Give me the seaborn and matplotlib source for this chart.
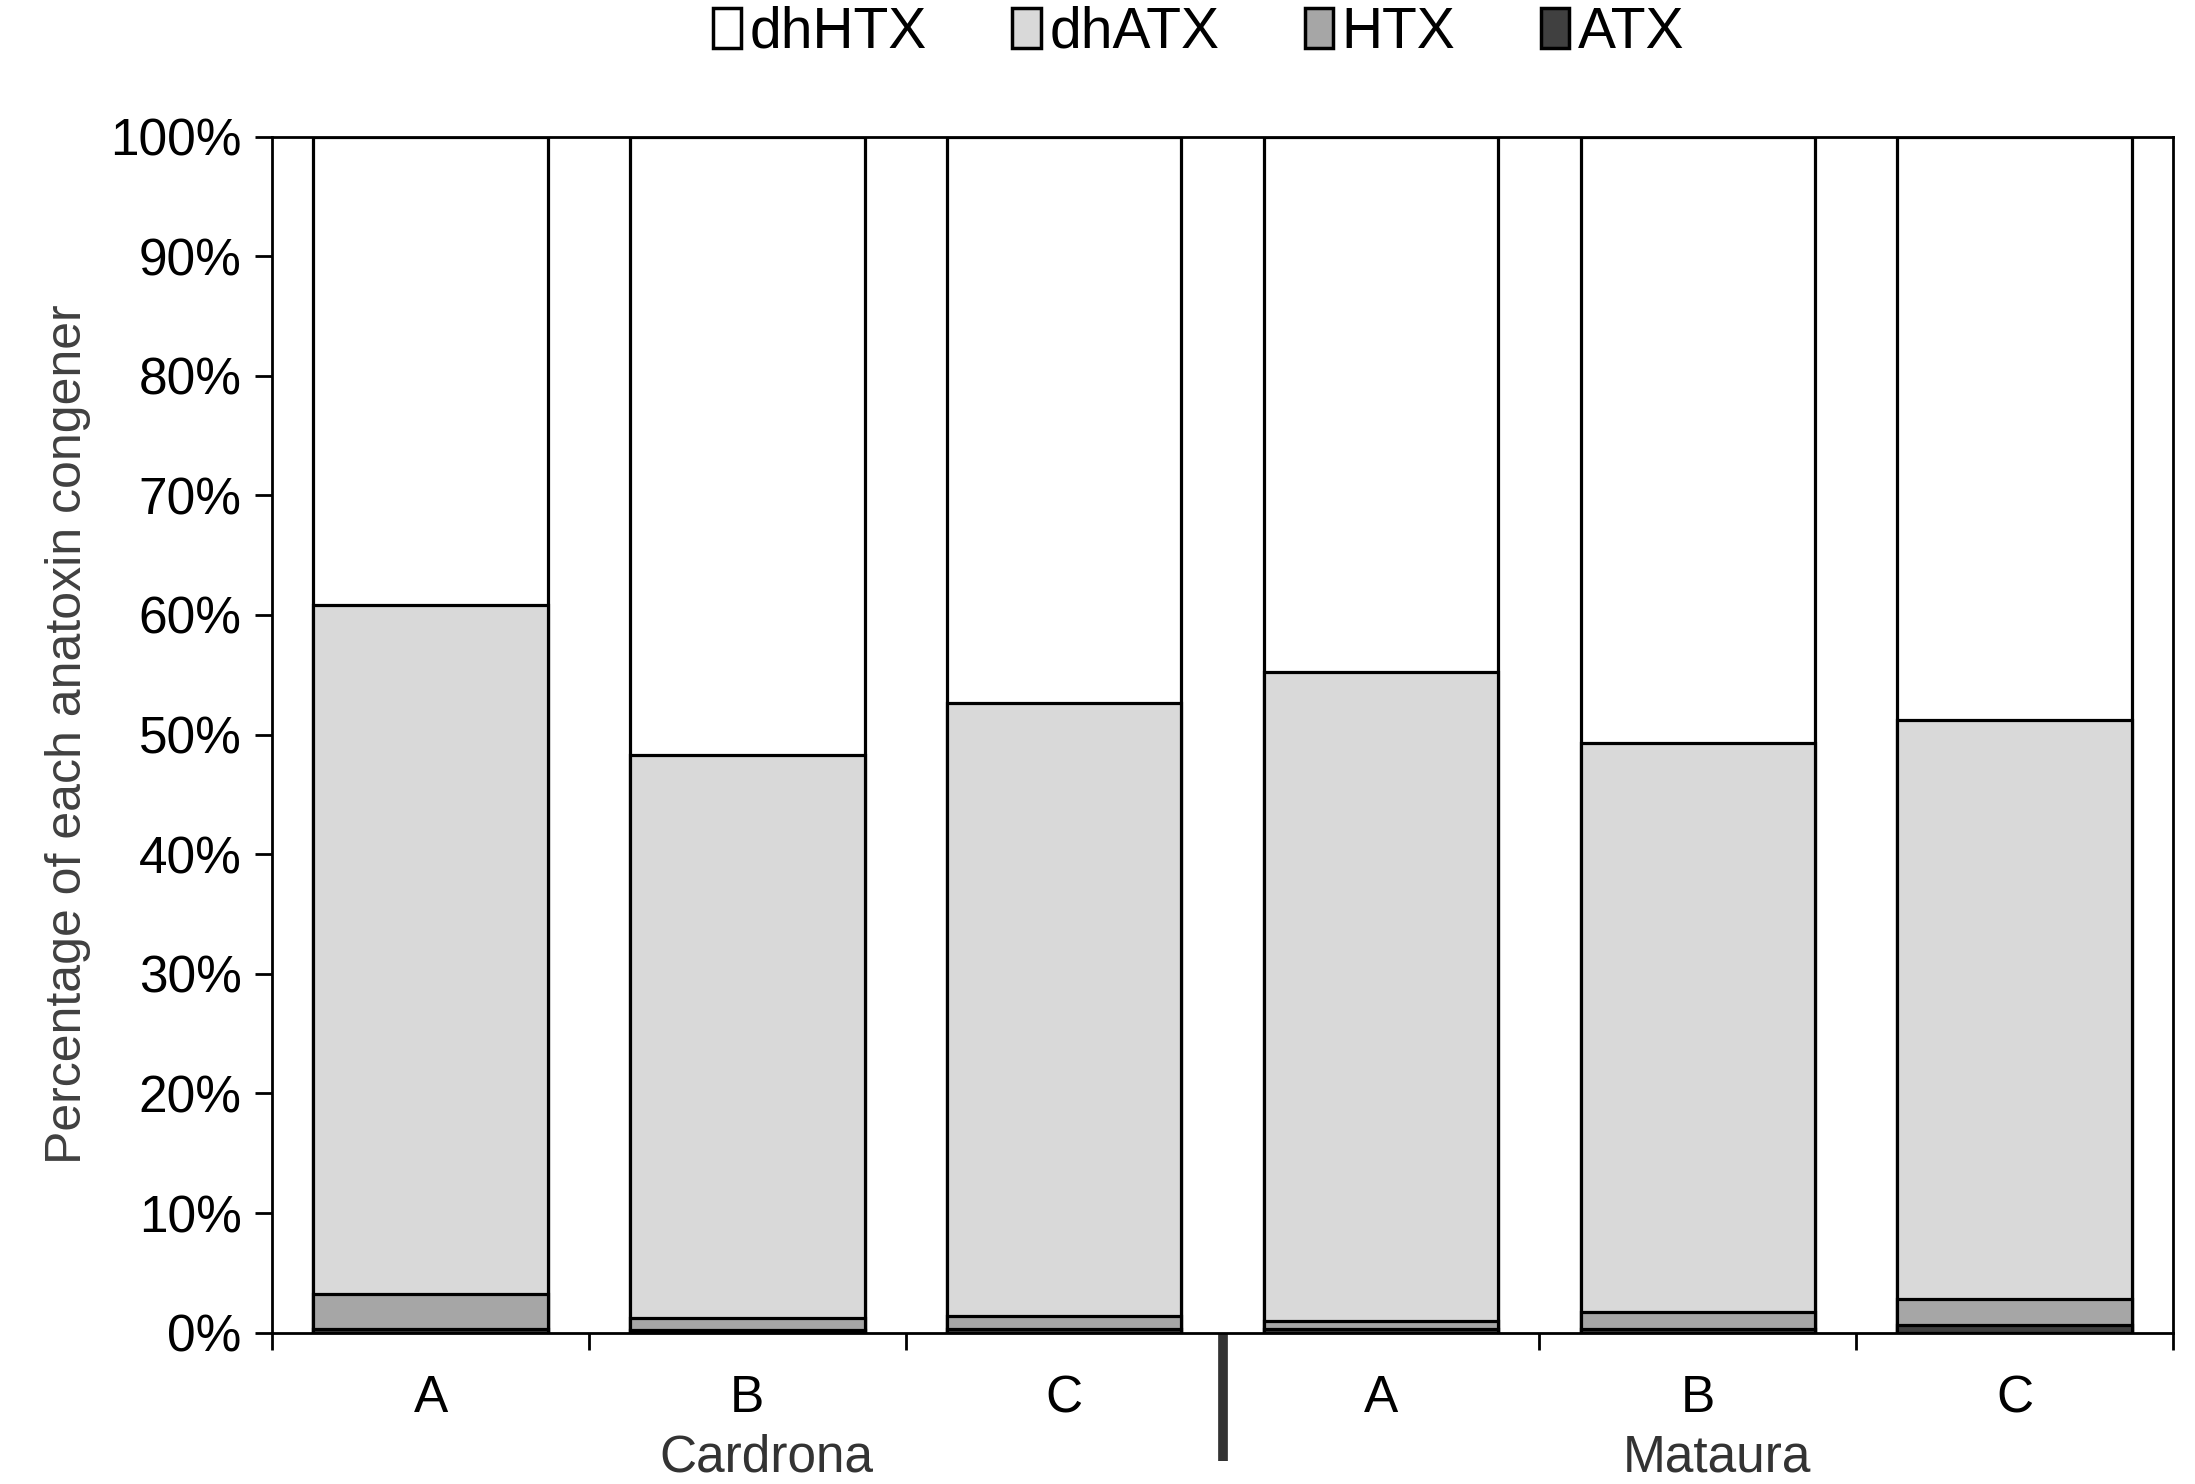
import numpy as np
import pandas as pd
import matplotlib
matplotlib.use("Agg")
import matplotlib.pyplot as plt
import seaborn as sns
from matplotlib.patches import Patch

# Data (percent of each congener)
sites = ['Cardrona', 'Cardrona', 'Cardrona', 'Mataura', 'Mataura', 'Mataura']
samples = ['A', 'B', 'C', 'A', 'B', 'C']
atx = [0.3, 0.2, 0.3, 0.3, 0.3, 0.6]
htx = [2.9, 1.0, 1.1, 0.7, 1.4, 2.2]
dhatx = [57.6, 47.1, 51.2, 54.2, 47.6, 48.4]
series = ['dhHTX', 'dhATX', 'HTX', 'ATX']
colors = {'dhHTX': '#ffffff', 'dhATX': '#d9d9d9', 'HTX': '#a6a6a6', 'ATX': '#404040'}

df = pd.DataFrame({'site': sites, 'sample': samples,
                   'ATX': atx, 'HTX': htx, 'dhATX': dhatx})
df['dhHTX'] = 100 - df['ATX'] - df['HTX'] - df['dhATX']
df['key'] = df['site'] + ' ' + df['sample']
# cumulative heights for stacking (draw tallest first)
df['c_ATX'] = df['ATX']
df['c_HTX'] = df['c_ATX'] + df['HTX']
df['c_dhATX'] = df['c_HTX'] + df['dhATX']
df['c_dhHTX'] = df['c_dhATX'] + df['dhHTX']

plt.rcParams['font.family'] = ['Liberation Sans', 'DejaVu Sans']
fig = plt.figure(figsize=(21.95, 14.84), dpi=100)
ax = fig.add_axes([0.124, 0.102, 0.866, 0.806])

for s in series:
    sns.barplot(data=df, x='key', y='c_' + s, color=colors[s], edgecolor='black',
                linewidth=2.3, width=0.74, saturation=1, ax=ax, errorbar=None)

ax.set_ylim(0, 100)
ax.set_xlim(-0.5, 5.5)
ax.set_yticks(np.arange(0, 101, 10))
ax.set_yticklabels([f'{v}%' for v in range(0, 101, 10)], fontsize=37)
ax.set_ylabel('Percentage of each anatoxin congener', fontsize=36, color='#404040', labelpad=14)
ax.set_xlabel('')

# ticks at category boundaries, labels at centres
ax.set_xticks(np.arange(-0.5, 6, 1))
ax.set_xticklabels([])
ax.set_xticks(np.arange(6), minor=True)
ax.set_xticklabels(samples, minor=True, fontsize=37)
ax.tick_params(axis='x', which='major', length=12, width=2, direction='out')
ax.tick_params(axis='x', which='minor', length=0, pad=30)
ax.tick_params(axis='y', length=12, width=2, direction='out', pad=10)
for sp in ax.spines.values():
    sp.set_linewidth(2)
    sp.set_color('black')

# group separator and group labels
ax.plot([0.5, 0.5], [0, -0.107], transform=ax.transAxes, color='#333333',
        linewidth=7, clip_on=False, solid_capstyle='butt')
for i, site in enumerate(['Cardrona', 'Mataura']):
    ax.text(0.26 + 0.5 * i, -0.105, site, transform=ax.transAxes,
            ha='center', va='center', fontsize=37, color='#333333')

handles = [Patch(facecolor=colors[s], edgecolor='black', linewidth=2.5) for s in series]
fig.legend(handles, series, loc='center', bbox_to_anchor=(0.546, 0.978), ncol=4,
           frameon=False, fontsize=41, handlelength=0.5, handleheight=0.7,
           handletextpad=0.15, columnspacing=1.5)

fig.savefig('out.png', dpi=100, facecolor='white')
